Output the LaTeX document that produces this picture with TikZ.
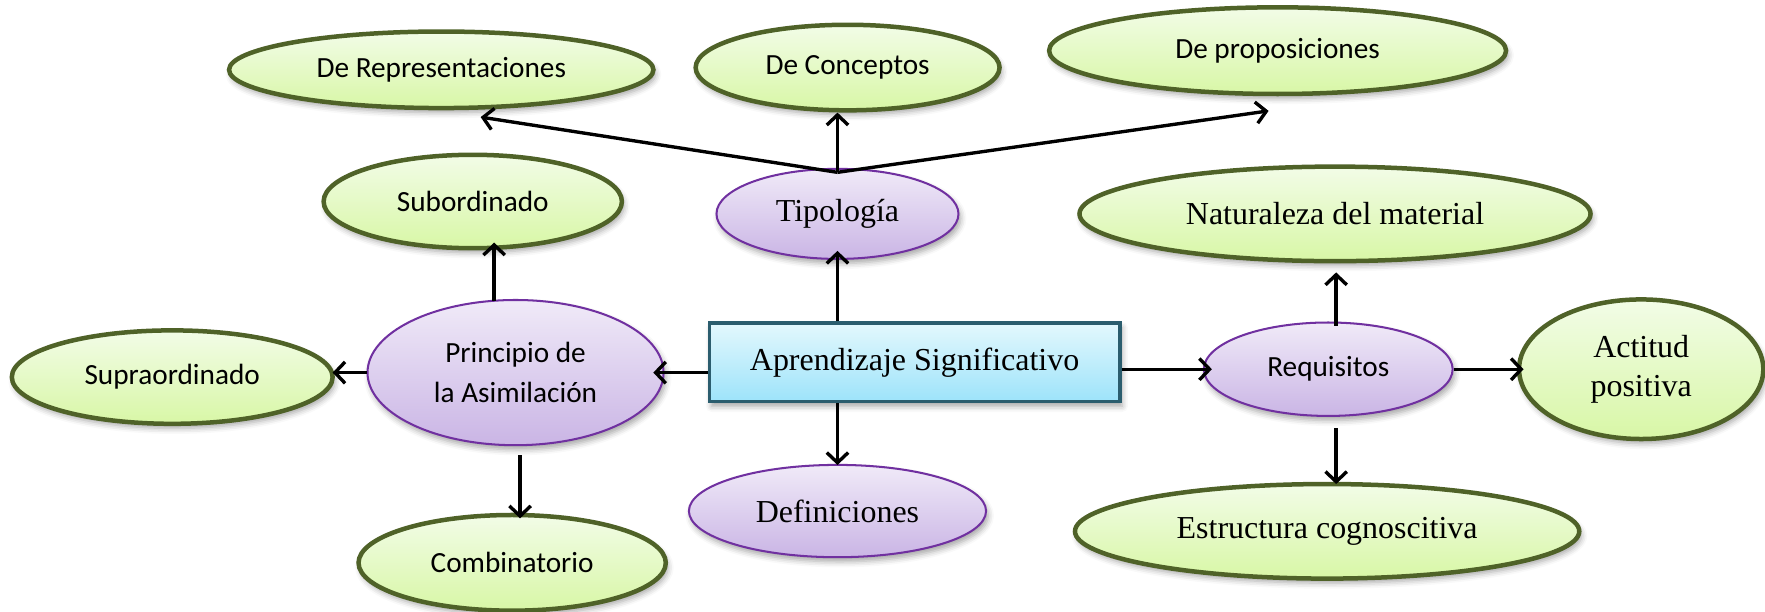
\documentclass[tikz,border=0pt]{standalone}
\usepackage{fontspec}
\setmainfont{Liberation Serif}
\newfontfamily\calfont{Carlito}
\usetikzlibrary{shapes.geometric,arrows.meta,calc,shadows.blur}

\definecolor{leafline}{HTML}{4F6228}
\definecolor{leaftop}{HTML}{F2FCE7}
\definecolor{leafbot}{HTML}{D8F7A6}
\definecolor{lilacline}{HTML}{7030A0}
\definecolor{lilactop}{HTML}{F0EAF8}
\definecolor{lilacbot}{HTML}{CAB5E5}
\definecolor{boxline}{HTML}{2B5D6E}
\definecolor{boxtop}{HTML}{E3F8FD}
\definecolor{boxbot}{HTML}{9DE3FA}

\begin{document}
\begin{tikzpicture}[x=0.5pt,y=-0.5pt,
  softshadow/.style={blur shadow={shadow xshift=1pt,shadow yshift=-2pt,shadow blur radius=2.5pt,shadow opacity=35}},
  sansfont/.style={font=\calfont\fontsize{13}{17.5}\selectfont},
  seriffont/.style={font=\fontsize{14.2}{17}\selectfont},
  leaf/.style={ellipse, draw=leafline, line width=2pt, top color=leaftop, bottom color=leafbot,
    inner sep=0pt, align=center, softshadow},
  lilac/.style={ellipse, draw=lilacline, line width=0.9pt, top color=lilactop, bottom color=lilacbot,
    inner sep=0pt, align=center, softshadow},
  mainbox/.style={rectangle, draw=boxline, line width=1.4pt, top color=boxtop, bottom color=boxbot,
    inner sep=0pt, align=center, softshadow},
  arr/.style={-{Straight Barb[length=4.5pt,width=9.5pt,line width=1.5pt]}, line width=1.5pt, black},
]
\useasboundingbox (0,0) rectangle (1568,543);

% central concept
\node[mainbox, seriffont, minimum width=182.5pt, minimum height=35pt] (box) at (812.5,322)
  {\raisebox{2.5pt}{Aprendizaje Significativo}};

% second level
\node[lilac, seriffont, minimum width=107.5pt, minimum height=40pt] (tipo) at (744,190) {Tipología};
\node[lilac, sansfont, minimum width=131.5pt, minimum height=64.5pt] (prin) at (458,331) {Principio de\\la Asimilación};
\node[lilac, seriffont, minimum width=132pt, minimum height=41pt] (defi) at (744,454) {Definiciones};
\node[lilac, sansfont, minimum width=110.5pt, minimum height=41.5pt] (req) at (1180,328) {Requisitos};

% leaves
\node[leaf, sansfont, minimum width=188.5pt, minimum height=34pt] (rep) at (392,62) {\raisebox{-2pt}{De Representaciones}};
\node[leaf, sansfont, minimum width=135pt, minimum height=38pt] (conc) at (753,60) {\raisebox{-2pt}{De Conceptos}};
\node[leaf, sansfont, minimum width=203pt, minimum height=38.5pt] (prop) at (1135,45) {De proposiciones};
\node[leaf, sansfont, minimum width=132.5pt, minimum height=41.5pt] (sub) at (420,179) {Subordinado};
\node[leaf, sansfont, minimum width=142.5pt, minimum height=41.5pt] (supra) at (153,335) {Supraordinado};
\node[leaf, sansfont, minimum width=136.5pt, minimum height=42.5pt] (comb) at (455,500) {Combinatorio};
\node[leaf, seriffont, minimum width=227pt, minimum height=42pt] (natu) at (1186,190) {Naturaleza del material};
\node[leaf, seriffont, minimum width=108.5pt, minimum height=62pt] (act) at (1458,328) {Actitud\\positiva};
\node[leaf, seriffont, minimum width=224pt, minimum height=42pt] (estr) at (1179,472) {Estructura cognoscitiva};

% connectors from the central box
\draw[arr, shorten >=-5pt] (box.west |- prin.east) -- (prin.east);
\draw[arr, shorten >=-4pt] (box.east |- req.west) -- (req.west);
\draw[arr, shorten >=-4pt] (box.north -| tipo.south) -- (tipo.south);
\draw[arr, shorten >=-0.5pt] (box.south -| defi.north) -- (defi.north);

% typology branches
\coordinate (tj) at ($(tipo.north)+(0,4)$);
\draw[arr, shorten <=-2pt] (tipo.north) -- (tipo.north |- conc.south);
\draw[arr] (tj) -- ($(rep.south)+(35,6)$);
\draw[arr] (tj) -- ($(prop.south)+(-8,13)$);

% assimilation branches
\draw[arr, shorten >=-1pt] (prin.west) -- (prin.west -| supra.east);
\draw[arr] ($(prin.north)+(-19,2)$) -- ($(sub.south)+(19,-7)$);
\draw[arr] ($(prin.south)+(4,8)$) -- ($(comb.north)+(7,5)$);

% requirement branches
\draw[arr, shorten >=-3pt] (req.east) -- (act.west);
\draw[arr] ($(req.north)+(7,4)$) -- ($(natu.south)+(1,8)$);
\draw[arr] ($(req.south)+(7,10)$) -- ($(estr.north)+(8,2)$);
\end{tikzpicture}
\end{document}
